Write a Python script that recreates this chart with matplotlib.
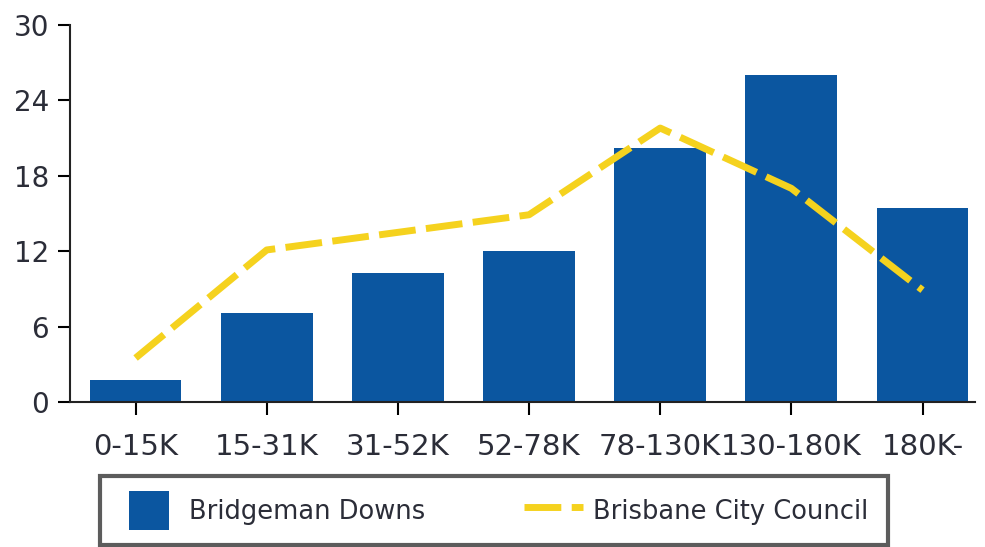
import matplotlib.pyplot as plt
import matplotlib.patches as mpatches
from matplotlib.container import BarContainer
from matplotlib.legend_handler import HandlerPatch

categories = ["0-15K", "15-31K", "31-52K", "52-78K", "78-130K", "130-180K", "180K-"]
bridgeman = [1.75, 7.1, 10.3, 12.0, 20.2, 26.0, 15.4]
brisbane = [3.5, 12.1, 13.5, 14.9, 21.8, 17.0, 8.9]
yticks = [0, 6, 12, 18, 24, 30]

bar_color = "#0b56a0"
line_color = "#f5d21e"
text_color = "#2b2d38"


def square_handle(legend, orig_handle, xdescent, ydescent, width, height, fontsize):
    side = height * 1.3
    return mpatches.Rectangle((width / 2 - side / 2 - xdescent, height / 2 - side / 2 - ydescent),
                              side, side)


def from_first_bar(handle, orig):
    handle.update_from(orig[0])


fig = plt.figure(figsize=(9.85, 5.47), dpi=100)
ax = fig.add_axes([70 / 985, 145 / 547, 905 / 985, 377 / 547])

x = range(len(categories))
bars = ax.bar(x, bridgeman, width=0.7, color=bar_color, label="Bridgeman Downs", zorder=2)
line, = ax.plot(x, brisbane, color=line_color, lw=5, dashes=(5.3, 1.5),
                label="Brisbane City Council", zorder=3)

ax.set_xlim(-0.5, 6.4)
ax.set_ylim(0, 30)
ax.set_yticks(yticks)
ax.set_xticks(list(x))
ax.set_xticklabels(categories, fontsize=21, color=text_color)
ax.tick_params(axis="y", labelsize=20, labelcolor=text_color, length=9, width=1.5, pad=6)
ax.tick_params(axis="x", length=9, width=1.5, pad=13)
for s in ["top", "right"]:
    ax.spines[s].set_visible(False)
for s in ["left", "bottom"]:
    ax.spines[s].set_linewidth(1.5)
    ax.spines[s].set_color("#222222")

leg = fig.legend(handles=[bars, line], loc="lower left",
                 bbox_to_anchor=(100 / 985, 2 / 547, 788 / 985, 67 / 547),
                 bbox_transform=fig.transFigure, mode="expand", ncol=2,
                 borderaxespad=0, fontsize=18.5, handlelength=2.3, handleheight=1.45,
                 handletextpad=0.4, borderpad=0.75, fancybox=False,
                 handler_map={BarContainer: HandlerPatch(patch_func=square_handle,
                                                         update_func=from_first_bar)})
leg.get_frame().set_edgecolor("#333333")
leg.get_frame().set_linewidth(3)
for t in leg.get_texts():
    t.set_color(text_color)

fig.savefig("out.png", dpi=100)
